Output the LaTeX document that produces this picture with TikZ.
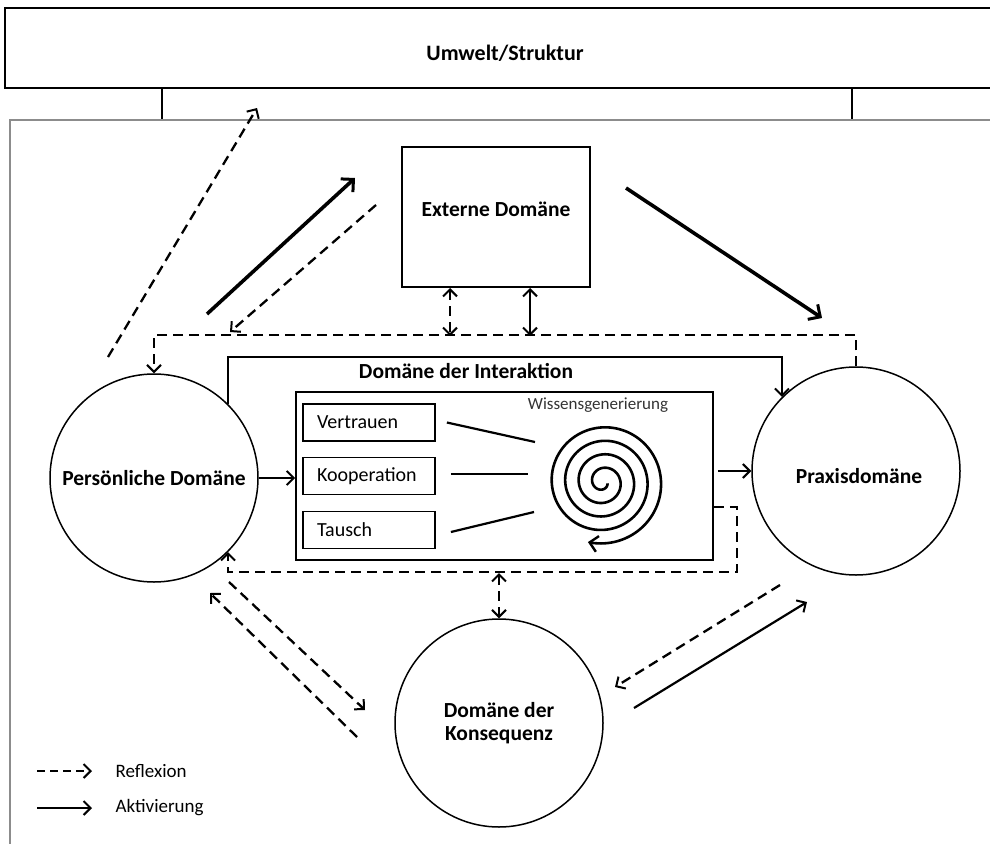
\documentclass[tikz,border=0pt]{standalone}
\usepackage{fontspec}
\setmainfont{Carlito}
\usetikzlibrary{arrows.meta,calc}
\begin{document}
\begin{tikzpicture}[x=1pt,y=-1pt,
  refl/.style={line width=2.3pt, dash pattern=on 10pt off 6pt},
  actm/.style={line width=2.2pt},
  actthick/.style={line width=3.6pt},
  tip/.style={-{Straight Barb[length=7pt,width=14pt,line width=2pt]}},
  bigtip/.style={-{Straight Barb[length=9pt,width=18pt,line width=3pt]}},
  dtip/.style={{Straight Barb[length=7pt,width=14pt,line width=2pt]}-{Straight Barb[length=7pt,width=14pt,line width=2pt]}},
  dom/.style={circle, draw, line width=1.5pt, minimum size=208pt, inner sep=0pt, font=\bfseries\fontsize{21.5}{25}\selectfont, align=center},
  small/.style={draw, line width=1.8pt, minimum width=132pt, minimum height=37pt, text width=104pt, inner xsep=14pt, align=left, font=\fontsize{20}{23}\selectfont},
  lbl/.style={font=\bfseries\fontsize{21.5}{25}\selectfont}
]
\useasboundingbox (0,0) rectangle (990,843);
% frames
\draw[line width=2.2pt] (1000,8) -- (5,8) -- (5,88) -- (1000,88);
\node[font=\bfseries\fontsize{22}{26}\selectfont] (umw) at (505,53) {Umwelt/Struktur};
\draw[line width=1.6pt] (162,88) -- (162,120) (852,88) -- (852,120);
\draw[line width=1.8pt, black!45] (1000,120) -- (10,120) -- (10,850);

% domains
\node[draw, line width=1.6pt, minimum width=188pt, minimum height=140pt] (ext) at (496,217) {};
\node[lbl] (extt) at (496,209) {Externe Domäne};
\node[dom] (pers) at (154,478) {Persönliche Domäne};
\node[dom] (prax) at (856,471) {};
\node[lbl] (praxt) at (859,476) {Praxisdomäne};
\node[dom] (kons) at (499,723) {Domäne der\\[-2pt]Konsequenz};

% interaction
\node[draw, line width=1.8pt, minimum width=417pt, minimum height=168pt] (inner) at (504.5,476) {};
\node[small] (vert) at (369,422.5) {Vertrauen};
\node[small] (koop) at (369,476) {Kooperation};
\node[small] (tau) at (369,530) {Tausch};
\node[font=\fontsize{17}{20}\selectfont, text=black!80] (wiss) at (598,405) {Wissensgenerierung};
\draw[line width=2.6pt, -{Straight Barb[length=8pt,width=16pt,line width=2.4pt]}]
  plot[domain=0.3:26.95, samples=500, smooth, variable=\t]
  ({603+(4+2.15*\t)*cos(\t r)}, {482+(4+2.15*\t)*sin(\t r)});
\coordinate (sp1) at (535,442);
\coordinate (sp2) at (528,474);
\coordinate (sp3) at (534,512);
\draw[line width=2.2pt] ($(vert.east)+(11,0)$) -- (sp1);
\draw[line width=2.2pt] ($(koop.east |- 0,474)+(15,0)$) -- (sp2);
\draw[line width=2.2pt] ($(tau.east)+(15,2)$) -- (sp3);

\draw[actm, tip] (pers.45) -- ++(0,-47) -| (prax.135);
\node[lbl] (inter) at (466,371) {Domäne der Interaktion};
\draw[actm, tip] (pers.east) -- (pers.east -| inner.west);
\draw[actm, tip] ($(inner.east |- prax.west)+(4,0)$) -- (prax.west);

% reflection frame lines
\draw[refl, tip] (prax.north) -- ++(0,-31) -| (pers.north);
\draw[refl, tip] ($(inner.east)+(0,31)$) -- ++(23,0) -- ++(0,65) -| (pers.-45);
\draw[refl, dtip] (450,288) -- (450,336);
\draw[actm, dtip] (530,288) -- (530,336);
\draw[refl, dtip] (kons.north |- 0,573) -- (kons.north);

% diagonal arrows
\coordinate (a1s) at (108,357); \coordinate (a1e) at (257,108);
\draw[refl, tip] (a1s) -- (a1e);
\coordinate (a2s) at (207,314); \coordinate (a2e) at (355,178);
\draw[actthick, bigtip] (a2s) -- (a2e);
\coordinate (a3s) at (376,205); \coordinate (a3e) at (230,332);
\draw[refl, tip] (a3s) -- (a3e);
\coordinate (a4s) at (626,188); \coordinate (a4e) at (822,318);
\draw[actthick, bigtip] (a4s) -- (a4e);
\coordinate (b1s) at (357,737); \coordinate (b1e) at (210,593);
\draw[refl, tip] (b1s) -- (b1e);
\coordinate (b2s) at (229,582); \coordinate (b2e) at (365,710);
\draw[refl, tip] (b2s) -- (b2e);
\coordinate (c1s) at (780,585); \coordinate (c1e) at (615,687);
\draw[refl, tip] (c1s) -- (c1e);
\coordinate (c2s) at (634,708); \coordinate (c2e) at (807,602);
\draw[actm, tip] (c2s) -- (c2e);

% legend
\coordinate (l1s) at (37,771); \coordinate (l1e) at (92,771);
\draw[refl, dash pattern=on 8pt off 5pt, tip] (l1s) -- (l1e);
\node[anchor=west, font=\fontsize{19}{22}\selectfont] (lrefl) at (112,771) {Reflexion};
\coordinate (l2s) at (37,808); \coordinate (l2e) at (92,808);
\draw[actm, tip] (l2s) -- (l2e);
\node[anchor=west, font=\fontsize{19}{22}\selectfont] (lakt) at (112,808) {Aktivierung};
\end{tikzpicture}
\end{document}
